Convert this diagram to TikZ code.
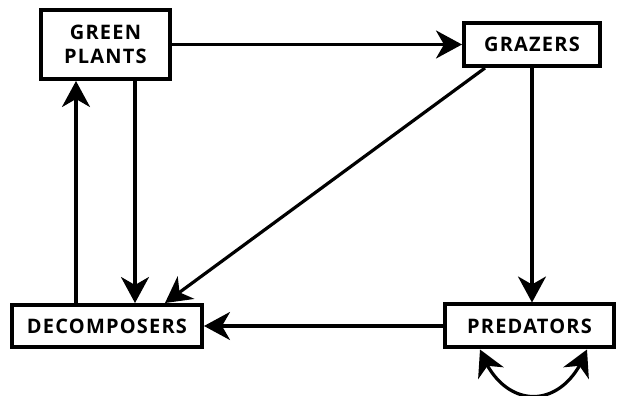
\documentclass[tikz,border=0pt]{standalone}
\usepackage{fontspec}
\setmainfont{Open Sans}[LetterSpace = 6]
\usetikzlibrary{arrows.meta, bending, positioning}
\tikzset{level/.style={rectangle, draw, line width = 2pt, font = \bfseries\fontsize{10}{12}\selectfont, align = center, inner sep = 0pt}}
\tikzset{tip/.tip={Stealth[length = 13pt, width = 14pt, inset = 4pt]}}
\tikzset{flow/.style={line width = 1.6pt, -tip}}

\begin{document}
\begin{tikzpicture}[x = 0.5pt, y = -0.5pt]
  \useasboundingbox (0, 0) rectangle (618, 396);

  \node[level, minimum width = 64.5pt, minimum height = 34.5pt] (plants) at (105.5, 44.5) {GREEN\\PLANTS};
  \node[level, minimum width = 68pt, minimum height = 21.5pt] (grazers) at (532, 44.5) {GRAZERS};
  \node[level, minimum width = 95pt, minimum height = 21pt] (decomp) at (107, 326) {DECOMPOSERS};
  \node[level, minimum width = 84.5pt, minimum height = 21.5pt] (preds) at (529.5, 326) {PREDATORS};

  \coordinate (upx) at (76, 0);
  \coordinate (downx) at (135, 0);
  \coordinate (diagA) at (485, 0);
  \coordinate (diagB) at (165, 0);

  \draw[flow] (plants) -- (grazers);
  \draw[flow] (decomp.north -| upx) -- (plants.south -| upx);
  \draw[flow] (plants.south -| downx) -- (decomp.north -| downx);
  \draw[flow] (grazers.south -| diagA) -- (decomp.north -| diagB);
  \draw[flow] (grazers.south) -- (grazers.south |- preds.north);
  \draw[flow] (preds) -- (decomp);

  % predators feeding on predators
  \draw[flow, tip-tip] ([xshift = -24.75pt]preds.south) to[out = -70, in = -110, looseness = 1.6] ([xshift = 28.75pt]preds.south);
\end{tikzpicture}
\end{document}
